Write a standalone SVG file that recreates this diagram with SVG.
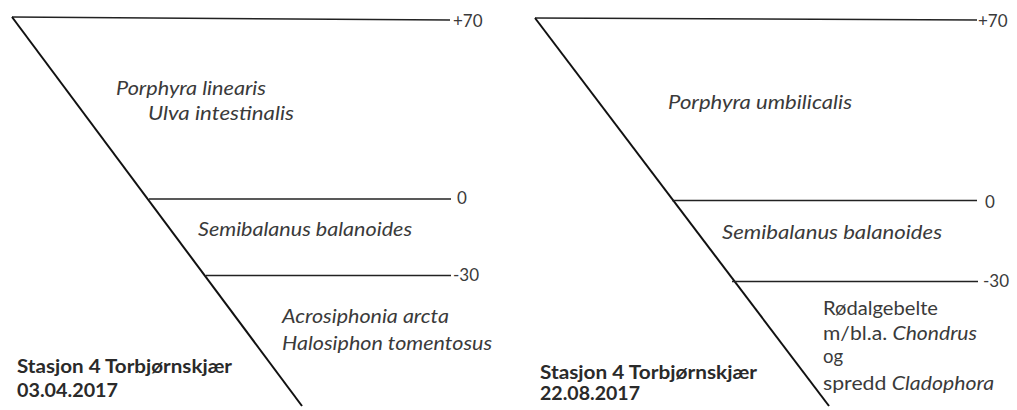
<svg xmlns="http://www.w3.org/2000/svg" width="1017" height="410" viewBox="0 0 1017 410">
<style>
.ln{stroke:#222;stroke-width:1.5;fill:none}
.dg{stroke:#111;stroke-width:2;fill:none}
text{font-family:Lato,"Liberation Sans",sans-serif;font-size:18.5px;fill:#3a3a3a}
.it{font-style:italic}
.b{font-weight:bold;font-size:18.5px;fill:#2a2a2a}
.n{font-size:17px}
</style>
<rect width="1017" height="410" fill="#fff"/>
<g id="connectors">
<line class="ln" x1="12" y1="17" x2="450" y2="20"/>
<line class="dg" x1="12" y1="17" x2="302" y2="406"/>
<line class="ln" x1="149" y1="199" x2="451" y2="199"/>
<line class="ln" x1="206" y1="275.5" x2="451" y2="275.5"/>
<line class="ln" x1="535" y1="18" x2="977" y2="20"/>
<line class="dg" x1="535" y1="18" x2="829" y2="406"/>
<line class="ln" x1="672" y1="200.5" x2="977" y2="200.5"/>
<line class="ln" x1="732" y1="281.5" x2="978" y2="281.5"/>
</g>
<g id="left-labels">
<text class="n" x="453" y="27">+70</text>
<text class="n" x="457" y="204">0</text>
<text class="n" x="453" y="281">-30</text>
</g>
<g id="left-zone1">
<text class="it" x="116" y="95" textLength="150" lengthAdjust="spacingAndGlyphs">Porphyra linearis</text>
<text class="it" x="148" y="120" textLength="146" lengthAdjust="spacingAndGlyphs">Ulva intestinalis</text>
</g>
<g id="left-zone2">
<text class="it" x="198" y="236" textLength="214" lengthAdjust="spacingAndGlyphs">Semibalanus balanoides</text>
</g>
<g id="left-zone3">
<text class="it" x="282" y="323" textLength="167" lengthAdjust="spacingAndGlyphs">Acrosiphonia arcta</text>
<text class="it" x="282" y="350" textLength="210" lengthAdjust="spacingAndGlyphs">Halosiphon tomentosus</text>
</g>
<g id="left-title">
<text class="b" x="17" y="373" textLength="215" lengthAdjust="spacingAndGlyphs">Stasjon 4 Torbjørnskjær</text>
<text class="b" x="17" y="397" textLength="101" lengthAdjust="spacingAndGlyphs">03.04.2017</text>
</g>
<g id="right-labels">
<text class="n" x="978" y="27">+70</text>
<text class="n" x="985" y="208">0</text>
<text class="n" x="983" y="287">-30</text>
</g>
<g id="right-zone1">
<text class="it" x="668" y="109" textLength="184" lengthAdjust="spacingAndGlyphs">Porphyra umbilicalis</text>
</g>
<g id="right-zone2">
<text class="it" x="722" y="239" textLength="220" lengthAdjust="spacingAndGlyphs">Semibalanus balanoides</text>
</g>
<g id="right-zone3">
<text x="823" y="315" textLength="115" lengthAdjust="spacingAndGlyphs">Rødalgebelte</text>
<text x="823" y="340" textLength="154" lengthAdjust="spacingAndGlyphs">m/bl.a. <tspan class="it">Chondrus</tspan></text>
<text x="823" y="363">og</text>
<text x="823" y="390" textLength="171" lengthAdjust="spacingAndGlyphs">spredd <tspan class="it">Cladophora</tspan></text>
</g>
<g id="right-title">
<text class="b" x="540" y="379" textLength="217" lengthAdjust="spacingAndGlyphs">Stasjon 4 Torbjørnskjær</text>
<text class="b" x="540" y="400" textLength="100" lengthAdjust="spacingAndGlyphs">22.08.2017</text>
</g>
</svg>
